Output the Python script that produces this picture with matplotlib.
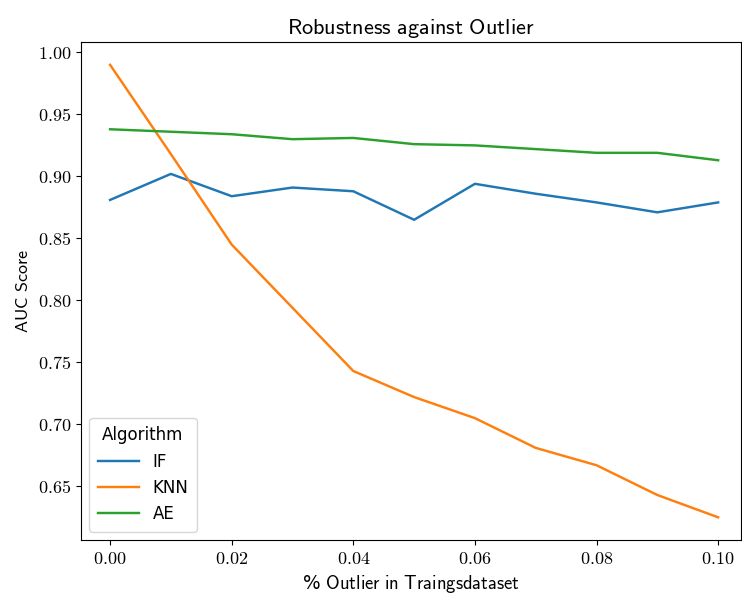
import matplotlib
matplotlib.use("Agg")
import matplotlib.pyplot as plt
from matplotlib.ticker import FuncFormatter

# values
outlier_share = [0.00, 0.01, 0.02, 0.03, 0.04, 0.05, 0.06, 0.07, 0.08, 0.09, 0.10]
auc_if = [0.881, 0.902, 0.884, 0.891, 0.888, 0.865, 0.894, 0.886, 0.879, 0.871, 0.879]
auc_knn = [0.990, 0.918, 0.845, 0.794, 0.743, 0.722, 0.705, 0.681, 0.667, 0.643, 0.625]
auc_ae = [0.938, 0.936, 0.934, 0.930, 0.931, 0.926, 0.925, 0.922, 0.919, 0.919, 0.913]

plt.rcParams["mathtext.fontset"] = "cm"
plt.rcParams["font.size"] = 11.5

fig, ax = plt.subplots(figsize=(7.42, 5.94), dpi=100)
for values, label in zip([auc_if, auc_knn, auc_ae], ["IF", "KNN", "AE"]):
    ax.plot(outlier_share, values, label=label, linewidth=1.75)

ax.set_xlim(-0.0048, 0.1038)
ax.xaxis.set_major_formatter(FuncFormatter(lambda v, p: f"${v:.2f}$"))
ax.yaxis.set_major_formatter(FuncFormatter(lambda v, p: f"${v:.2f}$"))
ax.tick_params(labelsize=13)

ax.set_title(r"$\mathsf{Robustness\ against\ Outlier}$", fontsize=16)
ax.set_xlabel(r"% $\mathsf{Outlier\ in\ Traingsdataset}$", fontsize=13.4)
ax.set_ylabel(r"$\mathsf{AUC\ Score}$", fontsize=13)
ax.legend(title="Algorithm", loc="lower left", fontsize=12, title_fontsize=12,
          handlelength=2.5, handletextpad=0.8, labelspacing=0.5, borderpad=0.5)

plt.subplots_adjust(left=0.109, right=0.999, top=0.929, bottom=0.091)
plt.savefig("out.png")
